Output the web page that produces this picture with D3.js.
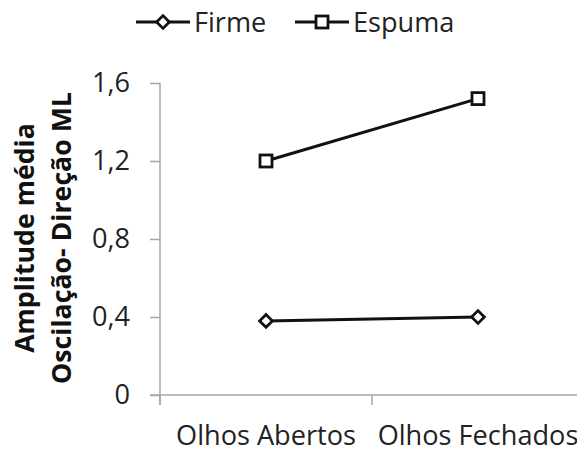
<!DOCTYPE html>
<html><head><meta charset="utf-8">
<script src="https://cdn.jsdelivr.net/npm/d3@7"></script>
<style>body{margin:0;background:#fff}svg{display:block}</style>
</head><body>
<script>
const categories = ["Olhos Abertos", "Olhos Fechados"];
const seriesNames = ["Firme", "Espuma"];
const firme = [0.38, 0.40];
const espuma = [1.20, 1.52];
const yTicks = [0, 0.4, 0.8, 1.2, 1.6];
const yTitle = ["Amplitude média", "Oscilação- Direção ML"];

const W = 577, H = 452;
const FONT = "'Open Sans', sans-serif";
const svg = d3.select("body").append("svg").attr("width", W).attr("height", H);

function fit(text, target, weight) {
  const t = svg.append("text").style("font-family", FONT).style("font-size", "100px")
    .style("font-weight", weight || "normal").text(text);
  const w = t.node().getComputedTextLength(); t.remove();
  return 100 * target / w;
}
const fs = fit("Olhos Abertos", 180);
const fsTitle = fit(yTitle[1], 292, "bold");

const pL = 160, pR = 584, pT = 83, pB = 395;
const x = d3.scaleBand().domain(categories).range([pL, pR]).padding(0);
const y = d3.scaleLinear().domain([0, 1.6]).range([pB, pT]);
const axisColor = "#a6a6a6";

// y axis
const ya = svg.append("g").attr("transform", `translate(${pL},0)`)
  .call(d3.axisLeft(y).tickValues(yTicks).tickSize(10).tickPadding(20)
    .tickFormat(d => d === 0 ? "0" : d3.format(".1f")(d).replace(".", ",")));
ya.select(".domain").remove();
ya.selectAll(".tick line").attr("stroke", axisColor).attr("stroke-width", 1.5);
ya.selectAll(".tick text").style("font-family", FONT).style("font-size", fs + "px").attr("fill", "#222");
svg.append("line").attr("x1", pL).attr("x2", pL).attr("y1", pT).attr("y2", pB + 10)
  .attr("stroke", axisColor).attr("stroke-width", 1.5);

// x axis
svg.append("line").attr("x1", pL - 10).attr("x2", pR).attr("y1", pB).attr("y2", pB)
  .attr("stroke", axisColor).attr("stroke-width", 1.5);
const xb = [pL, ...categories.map(c => x(c) + x.bandwidth())];
svg.selectAll(".xt").data(xb).enter().append("line")
  .attr("x1", d => d).attr("x2", d => d).attr("y1", pB).attr("y2", pB + 10)
  .attr("stroke", axisColor).attr("stroke-width", 1.5);
svg.selectAll(".xl").data(categories).enter().append("text")
  .attr("x", d => x(d) + x.bandwidth() / 2).attr("y", 445).attr("text-anchor", "middle")
  .style("font-family", FONT).style("font-size", fs + "px").attr("fill", "#222").text(d => d);

// y title
const tg = svg.append("g").attr("transform", "translate(0,238) rotate(-90)");
yTitle.forEach((t, i) => {
  tg.append("text").attr("x", 0).attr("y", i === 0 ? 34 : 71).attr("text-anchor", "middle")
    .style("font-family", FONT).style("font-size", fsTitle + "px").style("font-weight", "bold")
    .attr("fill", "#111").text(t);
});

// marker shapes: rotated square (diamond) and square
function marker(sel, k) {
  if (k === 0) {
    sel.append("rect").attr("x", -4.5).attr("y", -4.5).attr("width", 9).attr("height", 9)
      .attr("transform", "rotate(45)");
  } else {
    sel.append("rect").attr("x", -6).attr("y", -6).attr("width", 12).attr("height", 12);
  }
  sel.selectAll("rect").attr("fill", "#fff").attr("stroke", "#111").attr("stroke-width", 2.8);
}

// lines
const line = d3.line().x((d, i) => x(categories[i]) + x.bandwidth() / 2).y(d => y(d));
const data = [firme, espuma];
data.forEach((s, k) => {
  svg.append("path").datum(s).attr("d", line).attr("fill", "none")
    .attr("stroke", "#111").attr("stroke-width", 3);
  svg.selectAll(".m" + k).data(s).enter().append("g")
    .attr("transform", (d, i) => `translate(${x(categories[i]) + x.bandwidth() / 2},${y(d)})`)
    .each(function () { marker(d3.select(this), k); });
});

// legend
const legX = [136, 295];
seriesNames.forEach((n, k) => {
  const g = svg.append("g").attr("transform", `translate(${legX[k]},22)`);
  g.append("line").attr("x1", 0).attr("x2", 54).attr("y1", 0).attr("y2", 0)
    .attr("stroke", "#111").attr("stroke-width", 3);
  marker(g.append("g").attr("transform", "translate(27,0)"), k);
  g.append("text").attr("x", 58).attr("y", 0).attr("dy", "0.36em")
    .style("font-family", FONT).style("font-size", fs + "px").attr("fill", "#222").text(n);
});
</script>
</body></html>
